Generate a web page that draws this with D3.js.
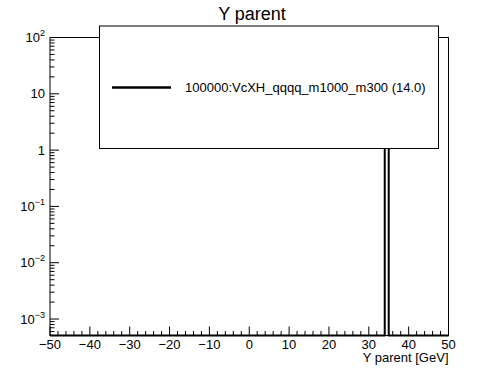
<!DOCTYPE html>
<meta charset="utf-8">
<title>Y parent</title>
<script src="https://cdn.jsdelivr.net/npm/d3@7"></script>
<style>
  body { margin: 0; background: #fff; }
  text { font-family: "Liberation Sans", Arial, Helvetica, sans-serif; fill: #000; }
</style>
<body>
<script>

var width = 498
   ,height = 374
   ,margin = {top: 37.5, right: 49.5, bottom: 38.5, left: 50};

// histogram: only non-empty bins are listed, everything else is 0
var xRange = [-50, 50]
   ,binLow = [34]
   ,binHigh = [35]
   ,binCount = [14];
var xTicks = [-50, -40, -30, -20, -10, 0, 10, 20, 30, 40, 50]
   ,yDecades = [-3, -2, -1, 0, 1, 2]
   ,yRange = [5.1e-4, 100];
var title = "Y parent"
   ,xLabel = "Y parent [GeV]"
   ,legendLabel = "100000:VcXH_qqqq_m1000_m300 (14.0)";

var svg = d3.select("body").append("svg")
            .attr("width", width)
            .attr("height", height);

var x = d3.scaleLinear().domain(xRange).range([margin.left, width - margin.right]);
var y = d3.scaleLog().domain(yRange).range([height - margin.bottom, margin.top]);
var y0 = height - margin.bottom;

// histogram outline (step line)
var pts = [[x(xRange[0]), y0]];
binLow.forEach(function (lo, i) {
  pts.push([x(lo), y0]);
  pts.push([x(lo), y(binCount[i])]);
  pts.push([x(binHigh[i]), y(binCount[i])]);
  pts.push([x(binHigh[i]), y0]);
});
pts.push([x(xRange[1]), y0]);

svg.append("path")
  .attr("d", d3.line()(pts))
  .attr("fill", "none")
  .attr("stroke", "#000")
  .attr("stroke-width", 2);

// frame
svg.append("rect")
  .attr("x", x(xRange[0]))
  .attr("y", margin.top)
  .attr("width", x(xRange[1]) - x(xRange[0]))
  .attr("height", y0 - margin.top)
  .attr("fill", "none")
  .attr("stroke", "#000")
  .attr("stroke-width", 1);

// x ticks
var xMinor = d3.range(xRange[0], xRange[1] + 0.1, 2);
svg.selectAll(".xminor").data(xMinor).enter().append("line")
  .attr("x1", function (d) { return x(d) }).attr("x2", function (d) { return x(d) })
  .attr("y1", y0).attr("y2", function (d) { return d % 10 === 0 ? y0 - 9 : y0 - 4.5 })
  .attr("stroke", "#000");

svg.selectAll(".xlab").data(xTicks).enter().append("text")
  .attr("x", function (d) { return x(d) })
  .attr("y", y0 + 13)
  .attr("text-anchor", "middle")
  .style("font-size", "13px")
  .text(function (d) { return d < 0 ? "\u2212" + (-d) : d });

// y ticks
yDecades.forEach(function (e) {
  for (var m = 1; m < 10; m++) {
    var v = m * Math.pow(10, e);
    if (v < yRange[0] || v > yRange[1] * 1.001) continue;
    svg.append("line")
      .attr("x1", x(xRange[0])).attr("x2", x(xRange[0]) + (m === 1 ? 9 : 4.5))
      .attr("y1", y(v)).attr("y2", y(v))
      .attr("stroke", "#000");
  }
  var t = svg.append("text")
    .attr("x", 45)
    .attr("y", y(Math.pow(10, e)) + 4.5)
    .attr("text-anchor", "end")
    .style("font-size", "13px");
  if (e === 0) t.text("1");
  else if (e === 1) t.text("10");
  else {
    t.append("tspan").text("10");
    t.append("tspan").attr("dy", -6).style("font-size", "9px")
      .text(e < 0 ? "\u2212" + (-e) : e);
  }
});

// minor ticks between the lower bound and 10^-3
d3.range(6, 10).forEach(function (m) {
  var v = m * 1e-4;
  if (v >= yRange[0]) {
    svg.append("line")
      .attr("x1", x(xRange[0])).attr("x2", x(xRange[0]) + 4.5)
      .attr("y1", y(v)).attr("y2", y(v))
      .attr("stroke", "#000");
  }
});

// x axis title
svg.append("text")
  .attr("x", x(xRange[1]))
  .attr("y", 362)
  .attr("text-anchor", "end")
  .style("font-size", "13px")
  .text(xLabel);

// title
svg.append("text")
  .attr("x", 252)
  .attr("y", 19.5)
  .attr("text-anchor", "middle")
  .style("font-size", "18px")
  .text(title);

// legend
svg.append("rect")
  .attr("x", 99.5).attr("y", 26)
  .attr("width", 339).attr("height", 122.5)
  .attr("fill", "#fff")
  .attr("stroke", "#000");

svg.append("line")
  .attr("x1", 112).attr("x2", 171)
  .attr("y1", 87.5).attr("y2", 87.5)
  .attr("stroke", "#000")
  .attr("stroke-width", 2.5);

svg.append("text")
  .attr("x", 185)
  .attr("y", 92)
  .style("font-size", "13px")
  .text(legendLabel);

</script>
